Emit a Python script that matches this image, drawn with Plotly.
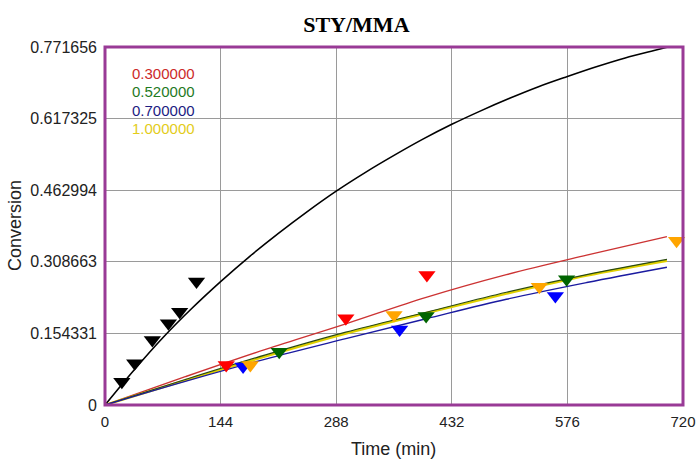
import plotly.graph_objects as go

# ---- data ----
x_ticks = [0, 144, 288, 432, 576, 720]
y_ticks = [0, 0.154331, 0.308663, 0.462994, 0.617325, 0.771656]
y_tick_text = ["0", "0.154331", "0.308663", "0.462994", "0.617325", "0.771656"]

# fitted model curves
t_black = [0, 36, 72, 108, 144, 180, 216, 252, 288, 324, 360, 396, 432, 468, 504, 540, 576, 612, 648, 684, 700]
c_black = [0, 0.075, 0.145, 0.208, 0.266, 0.320, 0.370, 0.417, 0.461, 0.501, 0.538, 0.573, 0.605, 0.634, 0.661, 0.686, 0.708, 0.729, 0.748, 0.764, 0.771]

t_fit = [0, 100, 200, 300, 400, 500, 600, 700]
c_red = [0, 0.061, 0.120, 0.175, 0.232, 0.281, 0.323, 0.363]
c_green = [0, 0.055, 0.108, 0.157, 0.200, 0.243, 0.281, 0.314]
c_yellow = [0, 0.053, 0.105, 0.154, 0.198, 0.240, 0.279, 0.311]
c_blue = [0, 0.051, 0.099, 0.143, 0.186, 0.228, 0.264, 0.297]

# experimental points
t_black_pts = [21, 37, 59, 79, 93, 114]
c_black_pts = [0.050, 0.090, 0.140, 0.176, 0.201, 0.266]
t_red_pts = [151, 300, 401]
c_red_pts = [0.086, 0.187, 0.280]
t_orange_pts = [181, 360, 541, 712]
c_orange_pts = [0.086, 0.194, 0.255, 0.354]
t_blue_pts = [172, 367, 561]
c_blue_pts = [0.083, 0.163, 0.235]
t_green_pts = [217, 400, 575]
c_green_pts = [0.115, 0.192, 0.271]

legend_labels = ["0.300000", "0.520000", "0.700000", "1.000000"]
legend_colors = ["#cc2a2a", "#1f7a1f", "#1c1c82", "#e3cc1a"]

W, H = 696, 459
L, R, T, B = 105, 13, 47, 54

fig = go.Figure()

def line(t, c, color, width):
    fig.add_trace(go.Scatter(x=t, y=c, mode="lines", line=dict(color=color, width=width, shape="spline"),
                             showlegend=False, hoverinfo="skip"))

def pts(t, c, color):
    fig.add_trace(go.Scatter(x=t, y=c, mode="markers", cliponaxis=False,
                             marker=dict(symbol="triangle-down", size=15, color=color,
                                         line=dict(width=0)),
                             showlegend=False))

line(t_black, c_black, "#000000", 1.6)
line(t_fit, c_red, "#cc3333", 1.4)
line(t_fit, c_yellow, "#e0d000", 2.4)
line(t_fit, c_green, "#2a4a10", 1.2)
line(t_fit, c_blue, "#1a1aa0", 1.4)

pts(t_black_pts, c_black_pts, "#000000")
pts(t_red_pts, c_red_pts, "#ff0000")
pts(t_blue_pts, c_blue_pts, "#0000ff")
pts(t_orange_pts, c_orange_pts, "#ffa500")
pts(t_green_pts, c_green_pts, "#006400")

for i, (lab, col) in enumerate(zip(legend_labels, legend_colors)):
    fig.add_annotation(x=0.043, y=0.925 - i * 0.0505, xref="paper", yref="paper",
                       text=lab, showarrow=False, xanchor="left", yanchor="middle",
                       font=dict(family="Liberation Sans, Arial", size=15, color=col))

# axis titles as annotations (pixel positions relative to plot area)
pw, ph = W - L - R, H - T - B
fig.add_annotation(x=(393 - L) / pw, y=-(449 - (T + ph)) / ph, xref="paper", yref="paper",
                   text="Time (min)", showarrow=False, xanchor="center", yanchor="middle",
                   font=dict(family="Liberation Sans, Arial", size=18, color="#222222"))
fig.add_annotation(x=-(L - 15) / pw, y=0.5, xref="paper", yref="paper", textangle=-90,
                   text="Conversion", showarrow=False, xanchor="center", yanchor="middle",
                   font=dict(family="Liberation Sans, Arial", size=18, color="#222222"))

fig.add_shape(type="rect", xref="x domain", yref="y domain", x0=0, x1=1, y0=0, y1=1,
              line=dict(color="#993a96", width=3), layer="above")

fig.update_layout(
    width=W, height=H,
    margin=dict(l=L, r=R, t=T, b=B, autoexpand=False),
    paper_bgcolor="white", plot_bgcolor="white",
    title=dict(text="<b>STY/MMA</b>", x=0.512, xanchor="center", y=1 - 24 / H, yanchor="middle",
               font=dict(family="Liberation Serif, Times New Roman", size=22, color="black")),
    font=dict(family="Liberation Sans, Arial", size=16, color="#222222"),
)
fig.update_xaxes(range=[0, 720], tickvals=x_ticks, ticktext=[str(v) for v in x_ticks],
                 tickfont=dict(size=15),
                 showgrid=True, gridcolor="#9a9a9a", gridwidth=1, zeroline=False,
                 showline=False, ticks="", ticklabelstandoff=6, automargin=False)
fig.update_yaxes(range=[0, 0.771656], tickvals=y_ticks, ticktext=y_tick_text,
                 showgrid=True, gridcolor="#9a9a9a", gridwidth=1, zeroline=False,
                 showline=False, ticks="", ticklabelstandoff=7, automargin=False)

fig.write_html("out.html")
